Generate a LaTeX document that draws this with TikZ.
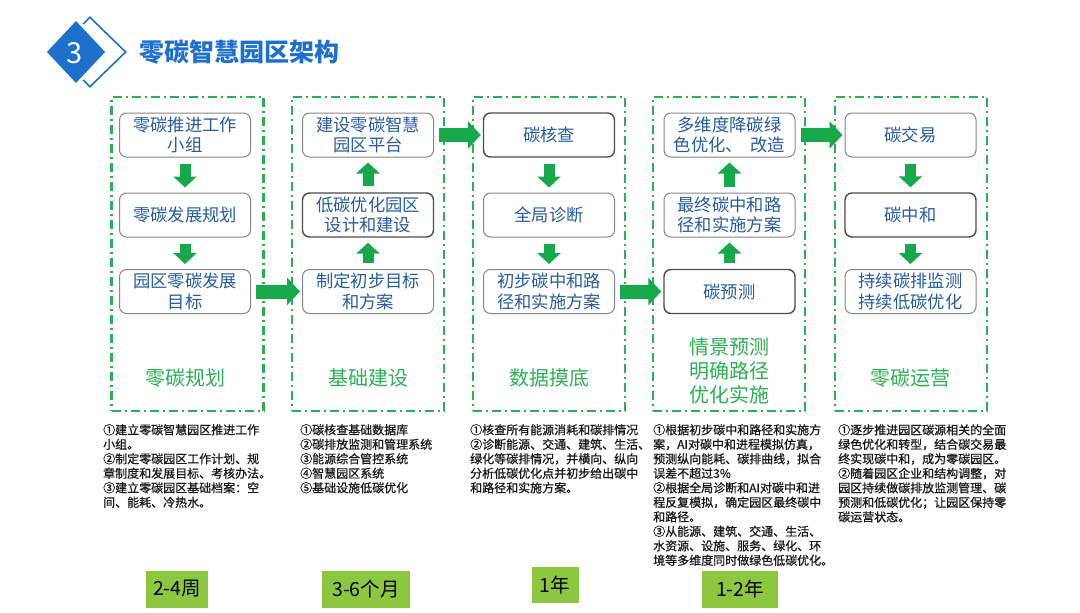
\documentclass[tikz,border=0pt]{standalone}
\usepackage{fontspec}
\setmainfont{Noto Sans CJK SC}
\newfontfamily\descfont{Noto Sans CJK SC}[FakeBold=0.8]
\usetikzlibrary{arrows.meta,shapes.geometric}
\definecolor{titleblue}{RGB}{30,112,205}
\definecolor{boxblue}{RGB}{38,92,160}
\definecolor{agreen}{RGB}{24,168,76}
\definecolor{lgreen}{RGB}{44,176,84}
\definecolor{badge}{RGB}{141,198,63}
\definecolor{bgray}{RGB}{135,135,135}
\begin{document}
\begin{tikzpicture}[x=1pt,y=-1pt,
  frame/.style={draw=lgreen,line width=2.4pt,dash pattern=on 9pt off 4pt on 2pt off 4pt,minimum width=152pt,minimum height=314pt,inner sep=0pt},
  stepbox/.style={draw=bgray,line width=1pt,rounded corners=7pt,fill=white,minimum width=131pt,minimum height=44pt,align=center,text=boxblue,inner sep=1pt,font=\fontsize{17.3}{20.5}\selectfont},
  darkbox/.style={stepbox,draw=black!70,line width=1.4pt},
  varrow/.style={draw=agreen,line width=11pt,-{Triangle[width=23pt,length=11pt]},shorten <=6pt,shorten >=5pt},
  harrow/.style={draw=agreen,line width=14pt,-{Triangle[width=27pt,length=13pt]},shorten <=5pt,shorten >=2pt},
  phase/.style={text=lgreen,font=\fontsize{20}{24}\selectfont,align=center},
  desc/.style={anchor=north west,align=left,inner sep=0pt,text=black!90,font=\descfont\fontsize{12}{14.5}\selectfont},
  badgebox/.style={fill=badge,inner sep=0pt,font=\fontsize{19.5}{22}\selectfont}
]
\useasboundingbox (0,0) rectangle (1080,613);
% title
\node[diamond,draw=titleblue,line width=1.6pt,fill=white,minimum width=72pt,minimum height=70pt,inner sep=0pt] (dback) at (90,52) {};
\node[diamond,draw=white,line width=3pt,fill=titleblue,minimum width=64pt,minimum height=68pt,inner sep=0pt] (dfront) at (76,52) {};
\node[text=white,font=\fontsize{29}{30}\selectfont] (num) at (75,53) {3};
\node[anchor=west,text=titleblue,font=\bfseries\fontsize{25}{28}\selectfont] (title) at (136,52) {零碳智慧园区架构};
% frames
\node[frame] (f1) at (187.5,254) {};
\node[frame] (f2) at (368,254) {};
\node[frame] (f3) at (549,254) {};
\node[frame] (f4) at (729,254) {};
\node[frame] (f5) at (911,254) {};
% column 1
\node[stepbox] (a1) at (185,135) {零碳推进工作\\小组};
\node[stepbox] (a2) at (185,215) {零碳发展规划};
\node[stepbox] (a3) at (185,291.5) {园区零碳发展\\目标};
% column 2
\node[stepbox] (b1) at (368,135) {建设零碳智慧\\园区平台};
\node[darkbox] (b2) at (368,215) {低碳优化园区\\设计和建设};
\node[stepbox] (b3) at (368,291.5) {制定初步目标\\和方案};
% column 3
\node[darkbox] (c1) at (549,135) {碳核查};
\node[stepbox] (c2) at (549,215) {全局诊断};
\node[stepbox] (c3) at (549,291.5) {初步碳中和路\\径和实施方案};
% column 4
\node[stepbox] (d1) at (729.5,135) {多维度降碳绿\\色优化、\ \ 改造};
\node[stepbox] (d2) at (729.5,215) {最终碳中和路\\径和实施方案};
\node[darkbox] (d3) at (729.5,291.5) {碳预测};
% column 5
\node[stepbox] (e1) at (910.5,135) {碳交易};
\node[darkbox] (e2) at (910.5,215) {碳中和};
\node[stepbox] (e3) at (910.5,291.5) {持续碳排监测\\持续低碳优化};
% vertical arrows
\draw[varrow] (a1) -- (a2);
\draw[varrow] (a2) -- (a3);
\draw[varrow] (b3) -- (b2);
\draw[varrow] (b2) -- (b1);
\draw[varrow] (c1) -- (c2);
\draw[varrow] (c2) -- (c3);
\draw[varrow] (d3) -- (d2);
\draw[varrow] (d2) -- (d1);
\draw[varrow] (e1) -- (e2);
\draw[varrow] (e2) -- (e3);
% horizontal arrows
\draw[harrow] (a3) -- (b3);
\draw[harrow] (b1) -- (c1);
\draw[harrow] (c3) -- (d3);
\draw[harrow] (d1) -- (e1);
% phase labels
\node[phase] (p1) at (185,378) {零碳规划};
\node[phase] (p2) at (368,378) {基础建设};
\node[phase] (p3) at (549,378) {数据摸底};
\node[phase] (p4) at (729.5,371) {情景预测\\明确路径\\优化实施};
\node[phase] (p5) at (910.5,378) {零碳运营};
% descriptions
\node[desc] (t1) at (103,424) {①建立零碳智慧园区推进工作\\小组。\\②制定零碳园区工作计划、规\\章制度和发展目标、考核办法。\\③建立零碳园区基础档案：空\\间、能耗、冷热水。};
\node[desc] (t2) at (300,424) {①碳核查基础数据库\\②碳排放监测和管理系统\\③能源综合管控系统\\④智慧园区系统\\⑤基础设施低碳优化};
\node[desc] (t3) at (470,424) {①核查所有能源消耗和碳排情况\\②诊断能源、交通、建筑、生活、\\绿化等碳排情况，并横向、纵向\\分析低碳优化点并初步给出碳中\\和路径和实施方案。};
\node[desc] (t4) at (653,424) {①根据初步碳中和路径和实施方\\案，AI对碳中和进程模拟仿真，\\预测纵向能耗、碳排曲线，拟合\\误差不超过3\%\\②根据全局诊断和AI对碳中和进\\程反复模拟，确定园区最终碳中\\和路径。\\③从能源、建筑、交通、生活、\\水资源、设施、服务、绿化、环\\境等多维度同时做绿色低碳优化。};
\node[desc] (t5) at (838,424) {①逐步推进园区碳源相关的全面\\绿色优化和转型，结合碳交易最\\终实现碳中和，成为零碳园区。\\②随着园区企业和结构调整，对\\园区持续做碳排放监测管理、碳\\预测和低碳优化；让园区保持零\\碳运营状态。};
% badges
\node[badgebox,minimum width=62pt,minimum height=37pt] (g1) at (177,589) {2-4周};
\node[badgebox,minimum width=88pt,minimum height=37pt] (g2) at (366,589) {3-6个月};
\node[badgebox,minimum width=47pt,minimum height=36pt] (g3) at (555,585) {1年};
\node[badgebox,minimum width=76pt,minimum height=37pt] (g4) at (740,589) {1-2年};
\end{tikzpicture}
\end{document}
